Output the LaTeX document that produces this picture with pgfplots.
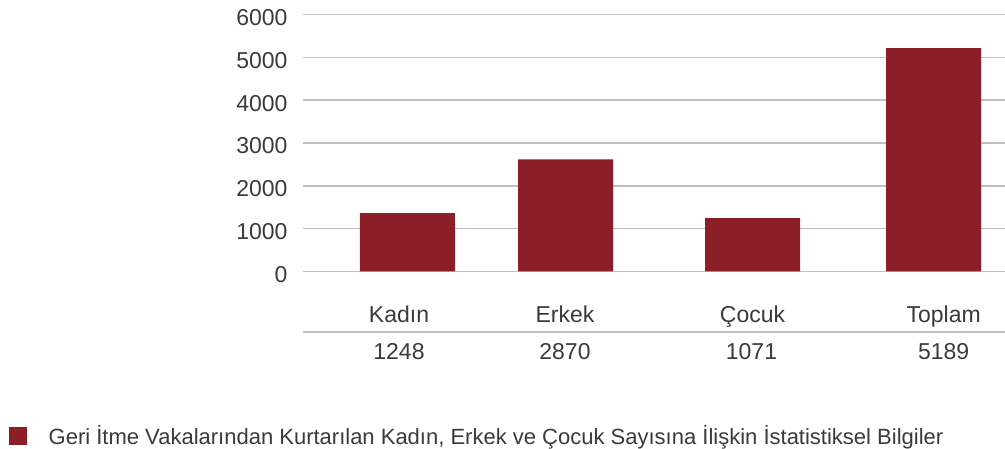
\documentclass[border=0pt]{standalone}
\usepackage{pgfplots}
\pgfplotsset{compat=1.18}
\usepackage{fontspec}
\setmainfont{Liberation Sans}
\definecolor{barred}{HTML}{8B1E26}
\definecolor{gridgray}{HTML}{BFC0C2}
\definecolor{txt}{HTML}{3A3A3A}
\begin{document}
\begin{tikzpicture}[x=1pt,y=1pt]
\path[use as bounding box] (0,0) rectangle (1005,448);
\begin{axis}[
  at={(303pt,176.7pt)}, anchor=south west,
  scale only axis, width=702pt, height=256.6pt,
  xmin=303, xmax=1005, ymin=0, ymax=6000,
  axis line style={draw=none},
  major tick length=0pt,
  ymajorgrids, grid style={gridgray, line width=1.5pt},
  ytick={0,1000,2000,3000,4000,5000,6000},
  /pgf/number format/assume math mode=true,
  /pgf/number format/set thousands separator={},
  yticklabel style={font=\fontsize{23}{27}\selectfont, text=txt, anchor=east, inner sep=0pt, xshift=-15.3pt, yshift=-3pt},
  xtick={399,565,752.5,943.7},
  xticklabels={Kadın,Erkek,Çocuk,Toplam},
  xticklabel style={font=\fontsize{23}{27}\selectfont, text=txt, anchor=base, inner sep=0pt, yshift=-51.4pt},
  clip=false,
  legend style={at={(axis description cs:-0.4184,-0.642)}, anchor=west, draw=none, fill=none, inner sep=0pt, outer sep=0pt,
    font=\fontsize{22}{26}\selectfont, text=txt, legend cell align=left,
    /tikz/every odd column/.append style={column sep=20pt}},
  legend image code/.code={\fill[barred] (0pt,-8.7pt) rectangle (17.4pt,8.7pt);},
]
\addplot[ybar, bar width=95, fill=barred, draw=none] coordinates {
  (407.5,1363) (565.5,2618) (752.5,1246) (933.5,5221)
};
\addlegendentry{Geri İtme Vakalarından Kurtarılan Kadın, Erkek ve Çocuk Sayısına İlişkin İstatistiksel Bilgiler}
\end{axis}
\draw[gridgray, line width=1.5pt] (303,116) -- (1005,116);
\begin{scope}[every node/.style={font=\fontsize{23}{27}\selectfont, text=txt, anchor=base, inner sep=0pt}]
\node at (399,88.7) {1248};
\node at (565,88.7) {2870};
\node at (751.5,88.7) {1071};
\node at (943.7,88.7) {5189};
\end{scope}
\end{tikzpicture}
\end{document}
